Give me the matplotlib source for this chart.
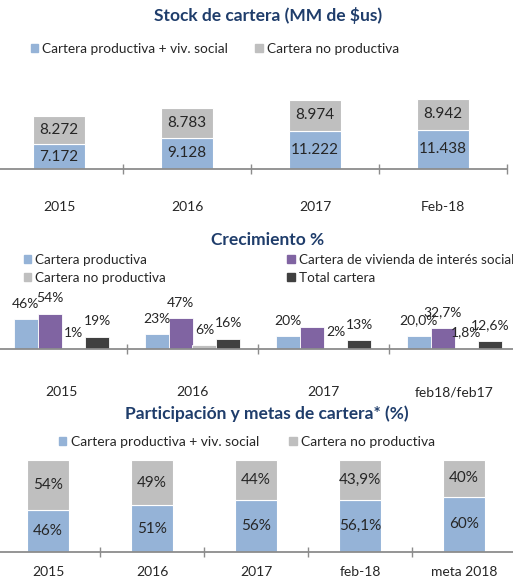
import matplotlib.pyplot as plt
from matplotlib.patches import Patch
import numpy as np

# --- data ---
years_stock = ['2015', '2016', '2017', 'Feb-18']
stock_productiva = [7.172, 9.128, 11.222, 11.438]
stock_no_productiva = [8.272, 8.783, 8.974, 8.942]

years_crec = ['2015', '2016', '2017', 'feb18/feb17']
crec_productiva = [46, 23, 20, 20.0]
crec_vivienda = [54, 47, 33, 32.7]
crec_no_productiva = [1, 6, 2, 1.8]
crec_total = [19, 16, 13, 12.6]
crec_decimals = [0, 0, 0, 1]
crec_vivienda_shown = [True, True, False, True]

years_part = ['2015', '2016', '2017', 'feb-18', 'meta 2018']
part_productiva = [46, 51, 56, 56.1, 60]
part_no_productiva = [54, 49, 44, 43.9, 40]
part_decimals = [0, 0, 0, 1, 0]

BLUE = '#95B3D7'
GRAY = '#BFBFBF'
PURPLE = '#8064A2'
DARK = '#404040'
TITLE = '#1F3D6B'
TXT = '#262626'
AXIS = '#8C8C8C'

plt.rcParams['font.family'] = ['Lato', 'DejaVu Sans']

W, H = 513, 577
fig = plt.figure(figsize=(W / 100, H / 100), dpi=100)


def px_axes(x0, y_top, x1, y_bot):
    """axes from pixel box (origin top-left)"""
    return fig.add_axes([x0 / W, 1 - y_bot / H, (x1 - x0) / W, (y_bot - y_top) / H])


def pct(v, d):
    return f"{v:.{d}f}".replace('.', ',') + '%'


def style_axis(ax, n, pad):
    for s in ['top', 'right', 'left']:
        ax.spines[s].set_visible(False)
    ax.spines['bottom'].set_color(AXIS)
    ax.spines['bottom'].set_linewidth(1.3)
    ax.set_yticks([])
    ax.set_xlim(-0.5, n - 0.5)
    ax.set_xticks(range(n))
    ax.tick_params(axis='x', which='major', length=0, pad=pad, labelsize=10, labelcolor=TXT)
    ax.set_xticks(np.arange(n + 1) - 0.5, minor=True)
    ax.tick_params(axis='x', which='minor', direction='inout', length=7, width=1, color=AXIS)


def px_text(x, y, s, **kw):
    fig.text(x / W, 1 - y / H, s, ha='center', va='center', **kw)


# --- panel 1: stock ---
ax1 = px_axes(-5, 75, 507, 169)
x = np.arange(len(years_stock))
ax1.bar(x, stock_productiva, 0.4, color=BLUE, edgecolor='white', linewidth=0.8)
ax1.bar(x, stock_no_productiva, 0.4, bottom=stock_productiva, color=GRAY,
        edgecolor='white', linewidth=0.8)
ax1.set_ylim(0, 27.4)
for i in range(len(x)):
    ax1.text(x[i], stock_productiva[i] / 2, f"{stock_productiva[i]:.3f}",
             ha='center', va='center', fontsize=11, color=TXT)
    ax1.text(x[i], stock_productiva[i] + stock_no_productiva[i] / 2, f"{stock_no_productiva[i]:.3f}",
             ha='center', va='center', fontsize=11, color=TXT)
style_axis(ax1, len(x), 23)
ax1.set_xticklabels(years_stock)
px_text(268, 16, 'Stock de cartera (MM de $us)', fontsize=12.5, fontweight='bold', color=TITLE)
fig.legend([Patch(color=BLUE), Patch(color=GRAY)],
           ['Cartera productiva + viv. social', 'Cartera no productiva'],
           loc='center', bbox_to_anchor=(215 / W, 1 - 49 / H), ncol=2, frameon=False,
           fontsize=9.8, handlelength=0.55, handleheight=0.55, handletextpad=0.3,
           columnspacing=2.0, labelcolor=TXT)

# --- panel 2: crecimiento ---
ax2 = px_axes(-4, 300, 520, 349)
x = np.arange(len(years_crec))
bw = 0.183
series = [crec_productiva, crec_vivienda, crec_no_productiva, crec_total]
colors = [BLUE, PURPLE, GRAY, DARK]
for k, (vals, col) in enumerate(zip(series, colors)):
    pos = x + (k - 1.5) * bw
    ax2.bar(pos, vals, bw, color=col, edgecolor='white', linewidth=0.6)
    for i in range(len(x)):
        if k == 1 and not crec_vivienda_shown[i]:
            continue
        ax2.annotate(pct(vals[i], crec_decimals[i]), (pos[i], vals[i]), xytext=(0, 11),
                     textcoords='offset points', ha='center', va='center',
                     fontsize=10, color=TXT, annotation_clip=False)
ax2.set_ylim(0, 49 / 0.655)
style_axis(ax2, len(x), 27)
ax2.set_xticklabels(years_crec)
px_text(268, 240, 'Crecimiento %', fontsize=12.5, fontweight='bold', color=TITLE)
fig.legend([Patch(color=BLUE), Patch(color=GRAY), Patch(color=PURPLE), Patch(color=DARK)],
           ['Cartera productiva', 'Cartera no productiva',
            'Cartera de vivienda de interés social', 'Total cartera'],
           loc='upper left', bbox_to_anchor=(24 / W, 1 - 254 / H), ncol=2, frameon=False,
           fontsize=9.7, handlelength=0.55, handleheight=0.55, handletextpad=0.3,
           columnspacing=9.0, labelspacing=0.45, borderpad=0, borderaxespad=0, labelcolor=TXT)

# --- panel 3: participacion ---
ax3 = px_axes(-4, 460, 516, 552)
x = np.arange(len(years_part))
ax3.bar(x, part_productiva, 0.4, color=BLUE, edgecolor='white', linewidth=0.8)
ax3.bar(x, part_no_productiva, 0.4, bottom=part_productiva, color=GRAY,
        edgecolor='white', linewidth=0.8)
ax3.set_ylim(0, 100)
for i in range(len(x)):
    ax3.text(x[i], part_productiva[i] / 2, pct(part_productiva[i], part_decimals[i]),
             ha='center', va='center', fontsize=11, color=TXT)
    ax3.text(x[i], part_productiva[i] + part_no_productiva[i] / 2,
             pct(part_no_productiva[i], part_decimals[i]),
             ha='center', va='center', fontsize=11, color=TXT)
style_axis(ax3, len(x), 10)
ax3.set_xticklabels(years_part)
px_text(267, 414, 'Participación y metas de cartera* (%)', fontsize=12.5, fontweight='bold', color=TITLE)
fig.legend([Patch(color=BLUE), Patch(color=GRAY)],
           ['Cartera productiva + viv. social', 'Cartera no productiva'],
           loc='center', bbox_to_anchor=(247 / W, 1 - 442 / H), ncol=2, frameon=False,
           fontsize=10, handlelength=0.55, handleheight=0.55, handletextpad=0.3,
           columnspacing=2.2, labelcolor=TXT)

fig.savefig('out.png', dpi=100)
